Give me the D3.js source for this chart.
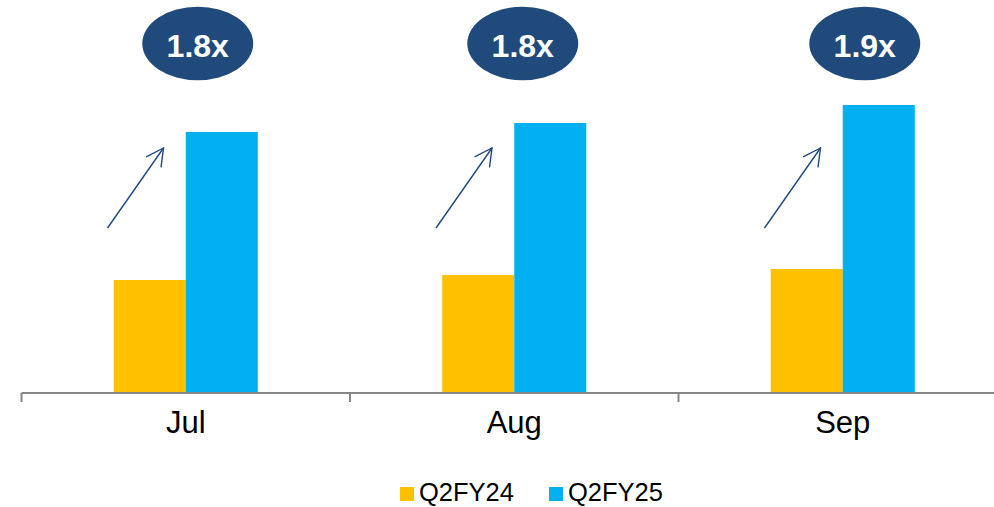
<!DOCTYPE html>
<html>
<head>
<meta charset="utf-8">
<script src="https://cdn.jsdelivr.net/npm/d3@7/dist/d3.min.js"></script>
<style>
  html, body { margin: 0; padding: 0; background: #fff; }
  svg { display: block; font-family: "Liberation Sans", Arial, sans-serif; }
</style>
</head>
<body>
<svg id="chart" width="994" height="507"></svg>
<script>
// Monthly values, Q2FY24 vs Q2FY25
const months = ["Jul", "Aug", "Sep"];
const seriesNames = ["Q2FY24", "Q2FY25"];
const q2fy24 = [113, 118, 124];
const q2fy25 = [261, 270, 288];
const growthLabels = ["1.8x", "1.8x", "1.9x"];

const colors = { Q2FY24: "#FFC000", Q2FY25: "#00B0F0" };
const navy = "#1F497D";

const svg = d3.select("#chart");
const W = 994, H = 507;
const baseY = 393;

const x0 = d3.scaleBand().domain(months).range([21.5, 1007]).paddingInner(0).paddingOuter(0);
const x1 = d3.scaleBand().domain(seriesNames).range([0, x0.bandwidth()]).paddingInner(0).paddingOuter(1.28);
const y = d3.scaleLinear().domain([0, 320]).range([baseY, baseY - 320]);

const rows = months.map((m, i) => ({ month: m, Q2FY24: q2fy24[i], Q2FY25: q2fy25[i], label: growthLabels[i] }));

// Bars
const groups = svg.append("g").selectAll("g").data(rows).join("g")
  .attr("transform", d => `translate(${x0(d.month)},0)`);
groups.selectAll("rect")
  .data(d => seriesNames.map(s => ({ key: s, value: d[s] })))
  .join("rect")
  .attr("x", d => x1(d.key))
  .attr("width", x1.bandwidth())
  .attr("y", d => y(d.value))
  .attr("height", d => baseY - y(d.value))
  .attr("fill", d => colors[d.key]);

// Category axis: baseline with ticks at band boundaries
const axis = svg.append("g");
axis.append("line")
  .attr("x1", x0.range()[0]).attr("x2", W + 20)
  .attr("y1", baseY).attr("y2", baseY)
  .attr("stroke", "#868686").attr("stroke-width", 2);
const edges = months.map(m => x0(m)).concat([x0.range()[1]]);
axis.selectAll("line.tick").data(edges).join("line")
  .attr("class", "tick")
  .attr("x1", d => d).attr("x2", d => d)
  .attr("y1", baseY).attr("y2", baseY + 9)
  .attr("stroke", "#868686").attr("stroke-width", 2);
axis.selectAll("text").data(months).join("text")
  .attr("x", d => x0(d) + x0.bandwidth() / 2)
  .attr("y", 433)
  .attr("text-anchor", "middle")
  .attr("font-size", 31)
  .attr("fill", "#000")
  .text(d => d);

// Growth arrows (open chevron heads)
const arrowG = svg.append("g");
const arrowStart = 86, arrowEnd = 142, arrowY0 = 228, arrowY1 = 148;
rows.forEach(d => {
  const bx = x0(d.month);
  const xa = bx + arrowStart, xb = bx + arrowEnd;
  arrowG.append("line")
    .attr("x1", xa).attr("y1", arrowY0).attr("x2", xb).attr("y2", arrowY1)
    .attr("stroke", navy).attr("stroke-width", 1.4);
  const ang = Math.atan2(arrowY1 - arrowY0, xb - xa);
  const len = 19, spread = Math.PI / 6.5;
  [ang + Math.PI - spread, ang + Math.PI + spread].forEach(a => {
    arrowG.append("line")
      .attr("x1", xb).attr("y1", arrowY1)
      .attr("x2", xb + len * Math.cos(a)).attr("y2", arrowY1 + len * Math.sin(a))
      .attr("stroke", navy).attr("stroke-width", 1.4).attr("stroke-linecap", "round");
  });
});

// Growth badges
const badgeShift = [12, 8.5, 22];
const badges = svg.append("g").selectAll("g").data(rows).join("g")
  .attr("transform", (d, i) => `translate(${x0(d.month) + x0.bandwidth() / 2 + badgeShift[i]},43.5)`);
badges.append("ellipse").attr("rx", 55.5).attr("ry", 36.7).attr("fill", "#204A7C");
badges.append("text")
  .attr("text-anchor", "middle")
  .attr("y", 13)
  .attr("font-size", 32)
  .attr("font-weight", "bold")
  .attr("fill", "#fff")
  .text(d => d.label);

// Legend
const legendX = [400, 549];
const legend = svg.append("g").selectAll("g").data(seriesNames).join("g")
  .attr("transform", (d, i) => `translate(${legendX[i]},0)`);
legend.append("rect").attr("x", 0).attr("y", 487).attr("width", 14).attr("height", 14)
  .attr("fill", d => colors[d]);
legend.append("text").attr("x", 19).attr("y", 501)
  .attr("font-size", 25.5).attr("fill", "#000").text(d => d);
</script>
</body>
</html>
